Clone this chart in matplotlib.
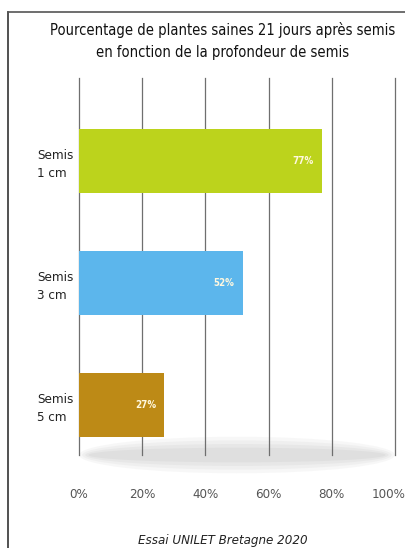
import matplotlib
matplotlib.use("Agg")
import matplotlib.pyplot as plt
import matplotlib.transforms as mtransforms
from matplotlib.patches import Ellipse
from matplotlib.lines import Line2D

TITLE = "Pourcentage de plantes saines 21 jours après semis\nen fonction de la profondeur de semis"
FOOTER = "Essai UNILET Bretagne 2020"

categories = ["Semis\n1 cm", "Semis\n3 cm", "Semis\n5 cm"]
values = [77, 52, 27]
bar_labels = ["77%", "52%", "27%"]
colors = ["#bcd31c", "#5cb6ec", "#bd8a16"]
ticks = [0, 20, 40, 60, 80, 100]
tick_labels = ["0%", "20%", "40%", "60%", "80%", "100%"]

plt.rcParams["font.family"] = ["DejaVu Sans"]
plt.rcParams["font.stretch"] = "condensed"


def create_graph():
    fig = plt.figure(figsize=(4.06, 5.48), dpi=100)
    ax = fig.add_axes([0.1946, 0.1697, 0.778, 0.688])

    # ombre grise sous les barres
    for k, a in [(1.0, 0.07), (0.8, 0.08), (0.6, 0.09), (0.4, 0.1)]:
        ax.add_patch(Ellipse((50, 2.41), 100 * (0.9 + 0.1 * k), 0.3 * k,
                             facecolor="#9a9a9a", edgecolor="none",
                             alpha=a, clip_on=False, zorder=0))

    for t in ticks:
        ax.axvline(t, color="#6f6f6f", lw=0.9, zorder=1, clip_on=False)

    y = list(range(len(values)))
    ax.barh(y, values, height=0.52, color=colors, zorder=2)
    for yi, v, lab in zip(y, values, bar_labels):
        ax.text(v - 6, yi, lab, ha="center", va="center", color="#fff8e0",
                fontsize=7, fontweight="bold", zorder=3)

    ax.set_xlim(0, 100)
    ax.set_ylim(2.41, -0.68)
    ax.set_xticks(ticks)
    ax.set_xticklabels(tick_labels, fontsize=9.5, color="#555555")
    ax.tick_params(axis="x", length=0, pad=24)
    last = ax.get_xticklabels()[-1]
    last.set_ha("right")
    last.set_transform(last.get_transform() +
                       mtransforms.ScaledTranslation(0.11, 0, fig.dpi_scale_trans))
    ax.set_yticks(y)
    ax.set_yticklabels(categories, fontsize=9.5, color="#222222", ha="left",
                       linespacing=1.5)
    ax.tick_params(axis="y", length=0, pad=30)
    for s in ax.spines.values():
        s.set_visible(False)

    fig.text(0.548, 0.925, TITLE, ha="center", va="center", fontsize=10.5,
             color="#111111", linespacing=1.55)
    fig.text(0.55, 0.013, FOOTER, ha="center", va="center", fontsize=9.5,
             style="italic", color="#222222")

    # cadre
    fig.add_artist(Line2D([0.02, 0.02], [0.0, 0.978], color="#333333", lw=1.2))
    fig.add_artist(Line2D([0.02, 1.0], [0.978, 0.978], color="#555555", lw=1.2))
    return fig


def save_graph(fig, imageFile):
    fig.savefig(imageFile, dpi=100)


if __name__ == "__main__":
    fig = create_graph()
    save_graph(fig, "out.png")
